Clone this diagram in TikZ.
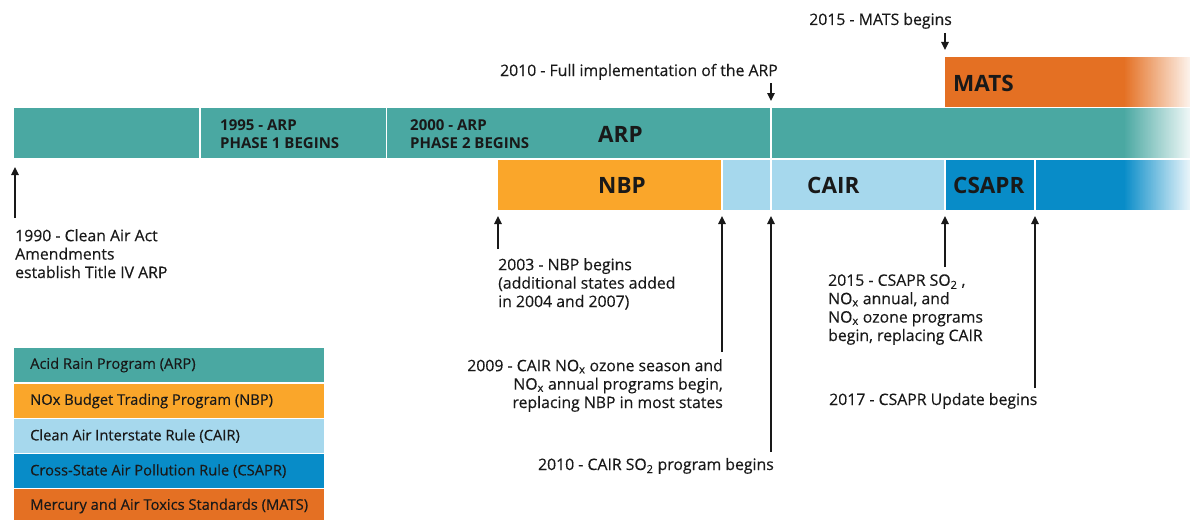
\documentclass[tikz,border=0pt]{standalone}
\usepackage{fontspec}
\setmainfont{Open Sans}
\usetikzlibrary{arrows.meta}
\definecolor{arpc}{RGB}{74,168,162}
\definecolor{nbpc}{RGB}{250,166,42}
\definecolor{cairc}{RGB}{166,216,237}
\definecolor{csaprc}{RGB}{8,140,200}
\definecolor{matsc}{RGB}{228,112,35}
\definecolor{ink}{RGB}{25,25,25}
% solid fill of a bar node whose right end fades out to white
\newcommand\barfade[2]{%
  \fill[#2] (#1.north west) rectangle ([xshift=-66pt]#1.south east);
  \foreach \i in {0,...,65}{%
    \pgfmathtruncatemacro\pc{100-90*\i/65}%
    \fill[#2!\pc!white] ([xshift=\i pt-66pt]#1.north east)
      rectangle ([xshift=\i pt-64.6pt]#1.south east);
  }}
\newcommand\heavier{\addfontfeature{FakeBold=0.35}}
\tikzset{
  seg/.style={draw=none, inner sep=0pt, outer sep=0pt, anchor=north west,
              minimum width=#1, minimum height=50pt},
  key/.style={draw=none, inner sep=0pt, outer sep=0pt, anchor=north west,
              minimum width=310pt, minimum height=34pt},
  big/.style={font=\fontsize{22.5}{24}\selectfont\bfseries, text=ink,
              inner sep=0pt, anchor=base west},
  phase/.style={font=\fontsize{15}{18}\selectfont\bfseries, text=ink,
                inner sep=0pt, anchor=base west, align=left},
  note/.style={font=\fontsize{15.8}{18.4}\selectfont\heavier, text=ink,
               inner sep=0pt, anchor=base west, align=left},
  noter/.style={note, anchor=base east, align=right},
  keytext/.style={font=\fontsize{14.7}{16}\selectfont\heavier, text=ink,
                  inner sep=0pt, anchor=west},
  arr/.style={draw=ink, line width=1.3pt,
              -{Triangle[length=8pt,width=7.5pt]}}
}
\begin{document}
\begin{tikzpicture}[x=1pt,y=-1pt]
\useasboundingbox (0,0) rectangle (1190,519);

% ARP row
\node[seg=185pt, fill=arpc] (arp1) at (14,108) {};
\node[seg=184.5pt, fill=arpc] (arp2) at (201,108) {};
\node[seg=383pt, fill=arpc] (arp3) at (387,108) {};
\node[seg=418pt] (arp4) at (772,108) {};
\barfade{arp4}{arpc}

% MATS row
\node[seg=245pt] (mats) at (945,57) {};
\barfade{mats}{matsc}

% NBP / CAIR / CSAPR row
\node[seg=223pt, fill=nbpc] (nbp) at (498,160) {};
\node[seg=47pt, fill=cairc] (cair1) at (723,160) {};
\node[seg=172pt, fill=cairc] (cair2) at (772,160) {};
\node[seg=88pt, fill=csaprc] (csapr1) at (946,160) {};
\node[seg=154pt] (csapr2) at (1036,160) {};
\barfade{csapr2}{csaprc}

% bar labels
\node[phase] (p1) at (220,148) {1995 - ARP\\PHASE 1 BEGINS};
\node[phase] (p2) at (410,148) {2000 - ARP\\PHASE 2 BEGINS};
\node[big] (larp) at (598,142) {ARP};
\node[big] (lnbp) at (598,193) {NBP};
\node[big] (lcair) at (807,193) {CAIR};
\node[big] (lcsapr) at (953,193) {CSAPR};
\node[big] (lmats) at (953,91) {MATS};

% milestone notes
\node[note] (t1990) at (15,278) {1990 - Clean Air Act\\Amendments\\establish Title IV ARP};
\node[note] (t2003) at (498,307) {2003 - NBP begins\\(additional states added\\in 2004 and 2007)};
\node[noter] (t2009) at (723,408) {2009 - CAIR NO\textsubscript{x} ozone season and\\NO\textsubscript{x} annual programs begin,\\replacing NBP in most states};
\node[noter] (t2010s) at (774,470) {2010 - CAIR SO\textsubscript{2} program begins};
\node[note] (t2015) at (828,341) {2015 - CSAPR SO\textsubscript{2} ,\\NO\textsubscript{x} annual, and\\NO\textsubscript{x} ozone programs\\begin, replacing CAIR};
\node[note] (t2017) at (829,405) {2017 - CSAPR Update begins};
\node[noter] (t2010f) at (778,76) {2010 - Full implementation of the ARP};
\node[noter] (t2015m) at (952,25) {2015 - MATS begins};

% arrow tails
\coordinate (e1990) at (15,218);
\coordinate (e2003) at (498,249);
\coordinate (e2009) at (722,352);
\coordinate (e2010s) at (771,452);
\coordinate (e2015) at (945,267);
\coordinate (e2017) at (1035,388);
\coordinate (e2010f) at (771,83);
\coordinate (e2015m) at (945,33);

% arrows
\draw[arr, shorten >=9pt] (e1990) -- (e1990 |- arp1.south);
\draw[arr, shorten >=6pt] (e2003) -- (e2003 |- nbp.south);
\draw[arr, shorten >=6pt] (e2009) -- (e2009 |- nbp.south);
\draw[arr, shorten >=6pt] (e2010s) -- (e2010s |- cair2.south);
\draw[arr, shorten >=6pt] (e2015) -- (e2015 |- csapr1.south);
\draw[arr, shorten >=6pt] (e2017) -- (e2017 |- csapr2.south);
\draw[arr, shorten >=7pt] (e2010f) -- (e2010f |- arp4.north);
\draw[arr, shorten >=7pt] (e2015m) -- (e2015m |- mats.north);

% key
\node[key, fill=arpc] (k1) at (14,348) {};
\node[key, fill=nbpc] (k2) at (14,384) {};
\node[key, fill=cairc] (k3) at (14,419) {};
\node[key, fill=csaprc] (k4) at (14,454) {};
\node[key, fill=matsc] (k5) at (14,489) {};
\node[keytext] at ([xshift=16pt]k1.west) {Acid Rain Program (ARP)};
\node[keytext] at ([xshift=16pt]k2.west) {NOx Budget Trading Program (NBP)};
\node[keytext] at ([xshift=16pt]k3.west) {Clean Air Interstate Rule (CAIR)};
\node[keytext] at ([xshift=16pt]k4.west) {Cross-State Air Pollution Rule (CSAPR)};
\node[keytext] at ([xshift=16pt]k5.west) {Mercury and Air Toxics Standards (MATS)};
\end{tikzpicture}
\end{document}
